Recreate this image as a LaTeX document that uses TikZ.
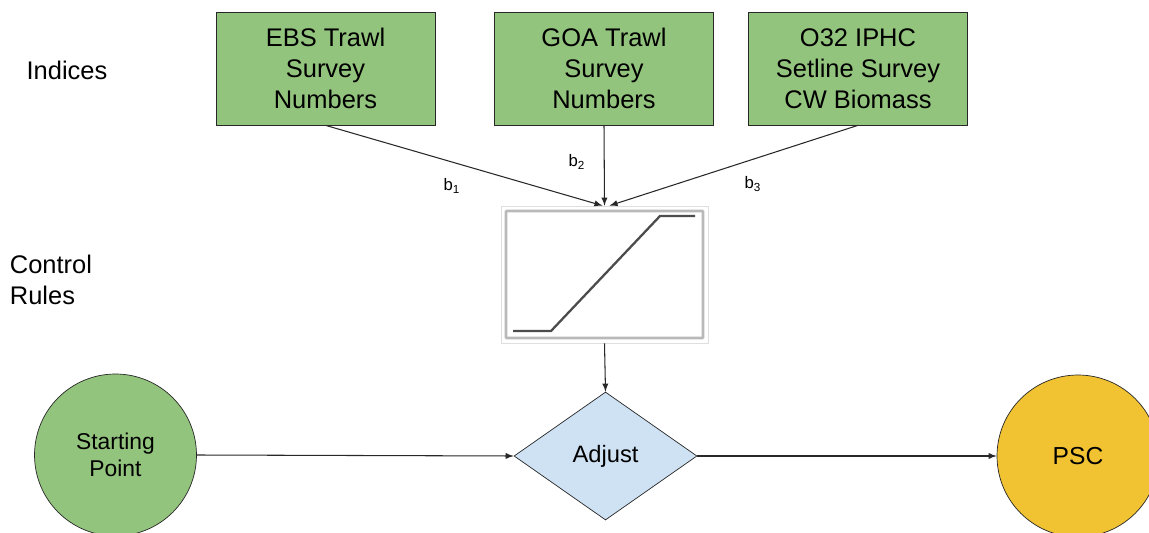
\documentclass[tikz,border=0pt]{standalone}
\usepackage{fontspec}
\setmainfont{Liberation Sans}
\usepackage{tikz}
\definecolor{indexgreen}{RGB}{147, 196, 125}
\definecolor{adjustblue}{RGB}{207, 226, 243}
\definecolor{pscyellow}{RGB}{241, 194, 50}
\definecolor{edgegray}{RGB}{40, 40, 40}
\usetikzlibrary{shapes, arrows, positioning, calc}

\begin{document}
\begin{tikzpicture}[
    x=0.02cm, y=-0.02cm,
    survey/.style={rectangle, draw=edgegray, fill=indexgreen, minimum width=4.38cm, minimum height=2.26cm, font=\fontsize{14.5}{17.6}\selectfont, align=center},
    point/.style={circle, draw=edgegray, minimum size=3.24cm, font=\fontsize{13}{15.5}\selectfont, align=center},
    decision/.style={diamond, draw=edgegray, fill=adjustblue, minimum width=3.66cm, minimum height=2.56cm, inner sep=0pt, font=\fontsize{13.5}{16}\selectfont},
    rowlabel/.style={font=\fontsize{14.5}{17.6}\selectfont, align=left},
    weight/.style={font=\fontsize{9.5}{11}\selectfont},
    arr/.style={-latex, draw=edgegray, line width=0.6pt}
]
    \clip (0,0) rectangle (1149,533);
    \fill[white] (0,0) rectangle (1149,533);

    % Row labels
    \node[rowlabel] (indices) at (67,70) {Indices};
    \node[rowlabel] (rules) at (51,280) {Control\\Rules};

    % Indices
    \node[survey] (ebs) at (325.5,68.5) {EBS Trawl\\Survey\\Numbers};
    \node[survey] (goa) at (604,68.5) {GOA Trawl\\Survey\\Numbers};
    \node[survey] (iphc) at (858,68.5) {O32 IPHC\\Setline Survey\\CW Biomass};

    % Control rule
    \node[rectangle, draw=gray!25, minimum width=4.14cm, minimum height=2.74cm] (rule) at (604.5,274.5) {};
    \draw[gray!55, line width=1.6pt, rounded corners=0.5pt] (506,211) rectangle (703,338);
    \draw[gray!60!black, line width=1.3pt] (513,331) -- (551,331) -- (660,216) -- (695,216);

    % Bottom row
    \node[point, fill=indexgreen] (start) at (115.5,455) {Starting\\Point};
    \node[decision] (adjust) at (605.5,456) {Adjust};
    \node[point, fill=pscyellow, font=\fontsize{14}{16}\selectfont] (psc) at (1078,456) {PSC};

    % Weights
    \node[weight] (b1) at (452,186) {b\textsubscript{1}};
    \node[weight] (b2) at (577,162) {b\textsubscript{2}};
    \node[weight] (b3) at (753,184) {b\textsubscript{3}};

    % Connectors
    \draw[arr] (ebs.south) -- ([xshift=-0.04cm]rule.north);
    \draw[arr] (goa.south) -- (rule.north);
    \draw[arr] (iphc.south) -- ([xshift=0.1cm]rule.north);
    \draw[arr] (rule.south) -- (adjust.north);
    \draw[arr] (start.east) -- (adjust.west);
    \draw[arr] (adjust.east) -- (psc.west);
\end{tikzpicture}
\end{document}
